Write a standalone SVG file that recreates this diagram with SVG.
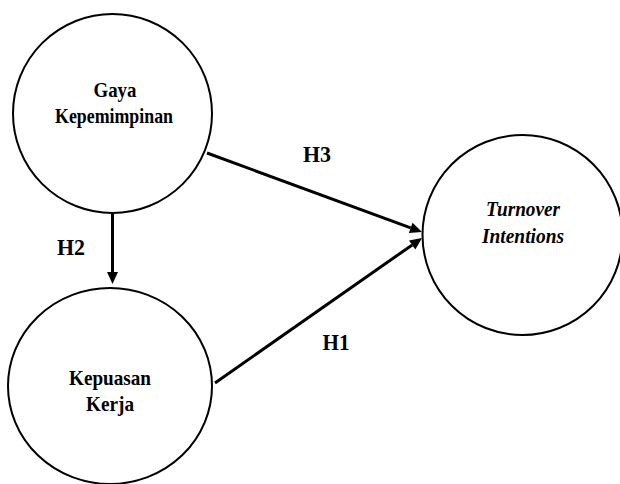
<svg xmlns="http://www.w3.org/2000/svg" width="620" height="484" viewBox="0 0 620 484">
<style>
.node{fill:#fff;stroke:#000;stroke-width:2}
.lbl{font-weight:bold;font-size:21px;fill:#000;text-anchor:middle}
.it{font-style:italic}
.h{font-weight:bold;font-size:23px;fill:#000;text-anchor:middle}
.edge{stroke:#000;stroke-width:3;fill:none}
</style>
<defs>
<marker id="ah" markerUnits="userSpaceOnUse" markerWidth="12" markerHeight="12" refX="0" refY="5.5" orient="auto" overflow="visible">
<path d="M0,0 L12,5.5 L0,11 z" fill="#000"/>
</marker>
</defs>
<rect width="620" height="484" fill="#fff"/>
<g font-family="Liberation Serif, DejaVu Serif, serif">
<g id="gaya">
<circle class="node" cx="112.5" cy="113.5" r="99.5"/>
<text class="lbl" x="115" y="97" textLength="43" lengthAdjust="spacingAndGlyphs">Gaya</text>
<text class="lbl" x="114" y="123" textLength="118" lengthAdjust="spacingAndGlyphs">Kepemimpinan</text>
</g>
<g id="kepuasan">
<ellipse class="node" cx="110" cy="386" rx="102" ry="98"/>
<text class="lbl" x="110" y="385" textLength="82" lengthAdjust="spacingAndGlyphs">Kepuasan</text>
<text class="lbl" x="110" y="411" textLength="48" lengthAdjust="spacingAndGlyphs">Kerja</text>
</g>
<g id="turnover">
<circle class="node" cx="522.5" cy="235" r="100"/>
<text class="lbl it" x="523" y="216" textLength="74" lengthAdjust="spacingAndGlyphs">Turnover</text>
<text class="lbl it" x="523" y="243" textLength="82" lengthAdjust="spacingAndGlyphs">Intentions</text>
</g>
<g id="connectors">
<line class="edge" x1="112.5" y1="214" x2="112.5" y2="272" marker-end="url(#ah)"/>
<line class="edge" x1="207" y1="153" x2="410.7" y2="227.9" marker-end="url(#ah)"/>
<line class="edge" x1="215" y1="383" x2="412.2" y2="244.9" marker-end="url(#ah)"/>
<text class="h" x="71" y="255" textLength="28" lengthAdjust="spacingAndGlyphs">H2</text>
<text class="h" x="317" y="162" textLength="28" lengthAdjust="spacingAndGlyphs">H3</text>
<text class="h" x="336" y="350" textLength="27" lengthAdjust="spacingAndGlyphs">H1</text>
</g>
</g>
</svg>
